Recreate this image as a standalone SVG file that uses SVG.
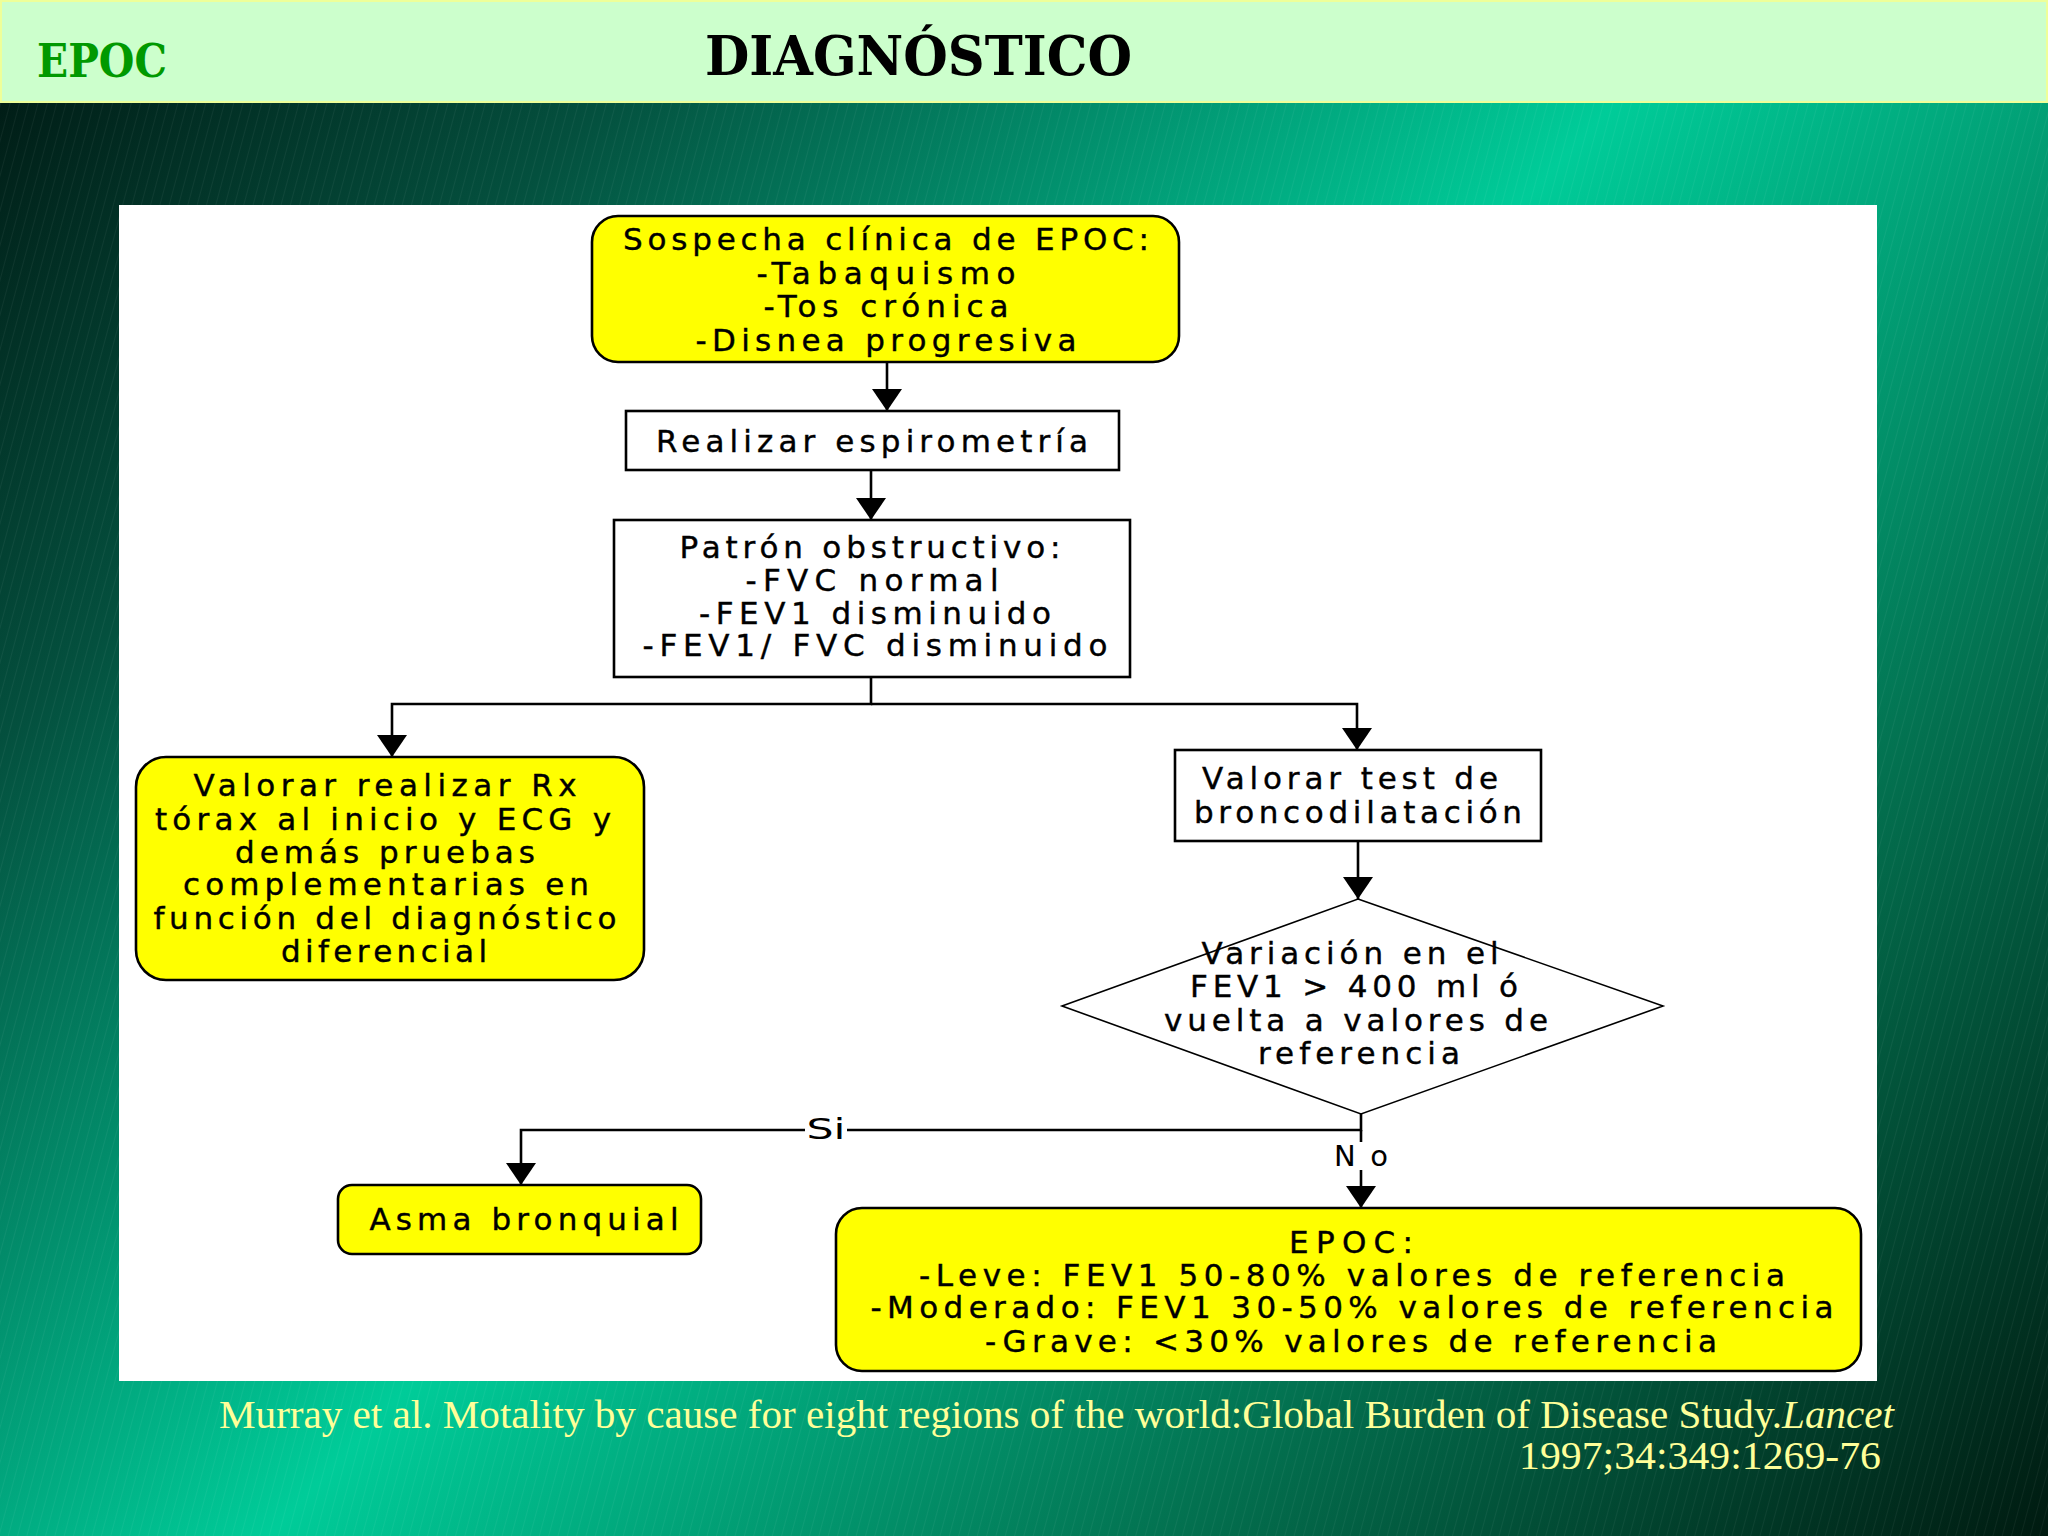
<svg xmlns="http://www.w3.org/2000/svg" width="2048" height="1536" viewBox="0 0 2048 1536">
<defs>
<linearGradient id="bg" gradientUnits="userSpaceOnUse" x1="0" y1="0" x2="1855" y2="1743">
<stop offset="0" stop-color="#001510"/>
<stop offset="0.2" stop-color="#04503e"/>
<stop offset="0.49" stop-color="#00cc99"/>
<stop offset="0.75" stop-color="#03704f"/>
<stop offset="1" stop-color="#001a10"/>
</linearGradient>
<pattern id="streak" patternUnits="userSpaceOnUse" width="9" height="40" patternTransform="rotate(15)">
<rect x="0" y="0" width="1" height="40" fill="#ffffff" opacity="0.05"/>
</pattern>
<marker id="arr" viewBox="0 0 22 30" refX="22" refY="15" markerWidth="22" markerHeight="30" markerUnits="userSpaceOnUse" orient="auto">
<path d="M0,0 L22,15 L0,30 Z" fill="#000"/>
</marker>
<style>
.yel{fill:#ffff00;stroke:#000;stroke-width:2.6}
.box{fill:#fff;stroke:#000;stroke-width:2.6}
.dia{fill:#fff;stroke:#000;stroke-width:1.6}
.t{font-family:"DejaVu Sans","Liberation Sans",sans-serif;font-size:31px;fill:#000;text-anchor:middle;stroke:#000;stroke-width:0.4}
.lbl{font-family:"DejaVu Sans","Liberation Sans",sans-serif;font-size:29px;fill:#000;text-anchor:middle}
.con{fill:none;stroke:#000;stroke-width:2.6}
.foot{font-family:"Liberation Serif","DejaVu Serif",serif;font-size:40px;fill:#ffff99}
</style>
</defs>
<rect x="0" y="0" width="2048" height="1536" fill="url(#bg)"/>
<rect x="0" y="102" width="2048" height="1434" fill="url(#streak)"/>
<g id="header">
<rect x="1" y="1" width="2046" height="101" fill="#ccffcc" stroke="#eeff99" stroke-width="2"/>
<text x="37" y="77" font-family="DejaVu Serif,Liberation Serif,serif" font-weight="bold" font-size="46" fill="#009900" textLength="130" lengthAdjust="spacingAndGlyphs">EPOC</text>
<text x="705" y="75" font-family="DejaVu Serif,Liberation Serif,serif" font-weight="bold" font-size="55" fill="#000" textLength="427" lengthAdjust="spacingAndGlyphs">DIAGNÓSTICO</text>
</g>
<rect id="panel" x="119" y="205" width="1758" height="1176" fill="#fff"/>
<g id="connectors">
<path class="con" d="M887,362 V411" marker-end="url(#arr)"/>
<path class="con" d="M871,470 V520" marker-end="url(#arr)"/>
<path class="con" d="M871,677 V704 H392 V757" marker-end="url(#arr)"/>
<path class="con" d="M871,704 H1357 V750" marker-end="url(#arr)"/>
<path class="con" d="M1358,841 V899" marker-end="url(#arr)"/>
<path class="con" d="M1361,1114 V1130 H521 V1185" marker-end="url(#arr)"/>
<path class="con" d="M1361,1130 V1208" marker-end="url(#arr)"/>
<rect x="805" y="1114" width="42" height="30" fill="#fff"/>
<text class="lbl" x="826" y="1139" textLength="39" lengthAdjust="spacingAndGlyphs">Si</text>
<rect x="1330" y="1142" width="62" height="28" fill="#fff"/>
<text class="lbl" x="1361" y="1166" textLength="54" lengthAdjust="spacing">No</text>
</g>
<g id="n1">
<rect class="yel" x="592" y="216" width="587" height="146" rx="26" ry="26"/>
<text class="t" x="886" y="250" textLength="526" lengthAdjust="spacing">Sospecha clínica de EPOC:</text>
<text class="t" x="886" y="284" textLength="259" lengthAdjust="spacing">-Tabaquismo</text>
<text class="t" x="886" y="317" textLength="245" lengthAdjust="spacing">-Tos crónica</text>
<text class="t" x="886" y="351" textLength="381" lengthAdjust="spacing">-Disnea progresiva</text>
</g>
<g id="n2">
<rect class="box" x="626" y="411" width="493" height="59"/>
<text class="t" x="872" y="452" textLength="432" lengthAdjust="spacing">Realizar espirometría</text>
</g>
<g id="n3">
<rect class="box" x="614" y="520" width="516" height="157"/>
<text class="t" x="870" y="558" textLength="381" lengthAdjust="spacing">Patrón obstructivo:</text>
<text class="t" x="872" y="591" textLength="253" lengthAdjust="spacing">-FVC normal</text>
<text class="t" x="875" y="624" textLength="352" lengthAdjust="spacing">-FEV1 disminuido</text>
<text class="t" x="875" y="656" textLength="465" lengthAdjust="spacing">-FEV1/ FVC disminuido</text>
</g>
<g id="n4">
<rect class="yel" x="136" y="757" width="508" height="223" rx="30" ry="30"/>
<text class="t" x="385" y="796" textLength="383" lengthAdjust="spacing">Valorar realizar Rx</text>
<text class="t" x="383" y="830" textLength="456" lengthAdjust="spacing">tórax al inicio y ECG y</text>
<text class="t" x="385" y="863" textLength="300" lengthAdjust="spacing">demás pruebas</text>
<text class="t" x="386" y="895" textLength="406" lengthAdjust="spacing">complementarias en</text>
<text class="t" x="385" y="929" textLength="463" lengthAdjust="spacing">función del diagnóstico</text>
<text class="t" x="384" y="962" textLength="206" lengthAdjust="spacing">diferencial</text>
</g>
<g id="n5">
<rect class="box" x="1175" y="750" width="366" height="91"/>
<text class="t" x="1350" y="789" textLength="296" lengthAdjust="spacing">Valorar test de</text>
<text class="t" x="1358" y="823" textLength="328" lengthAdjust="spacing">broncodilatación</text>
</g>
<g id="n6">
<polygon class="dia" points="1358,899 1663,1006 1361,1114 1062,1006"/>
<text class="t" x="1350" y="964" textLength="297" lengthAdjust="spacing">Variación en el</text>
<text class="t" x="1354" y="997" textLength="328" lengthAdjust="spacing">FEV1 &gt; 400 ml ó</text>
<text class="t" x="1356" y="1031" textLength="384" lengthAdjust="spacing">vuelta a valores de</text>
<text class="t" x="1359" y="1064" textLength="202" lengthAdjust="spacing">referencia</text>
</g>
<g id="n7">
<rect class="yel" x="338" y="1185" width="363" height="69" rx="14" ry="14"/>
<text class="t" x="524" y="1230" textLength="309" lengthAdjust="spacing">Asma bronquial</text>
</g>
<g id="n8">
<rect class="yel" x="836" y="1208" width="1025" height="163" rx="26" ry="26"/>
<text class="t" x="1351" y="1253" textLength="124" lengthAdjust="spacing">EPOC:</text>
<text class="t" x="1352" y="1286" textLength="866" lengthAdjust="spacing">-Leve: FEV1 50-80% valores de referencia</text>
<text class="t" x="1352" y="1318" textLength="963" lengthAdjust="spacing">-Moderado: FEV1 30-50% valores de referencia</text>
<text class="t" x="1351" y="1352" textLength="732" lengthAdjust="spacing">-Grave: &lt;30% valores de referencia</text>
</g>
<g id="footer">
<text class="foot" x="219" y="1428" textLength="1675" lengthAdjust="spacingAndGlyphs">Murray et al. Motality by cause for eight regions of the world:Global Burden of Disease Study.<tspan font-style="italic">Lancet</tspan></text>
<text class="foot" x="1881" y="1469" text-anchor="end" textLength="362" lengthAdjust="spacingAndGlyphs">1997;34:349:1269-76</text>
</g>
</svg>
